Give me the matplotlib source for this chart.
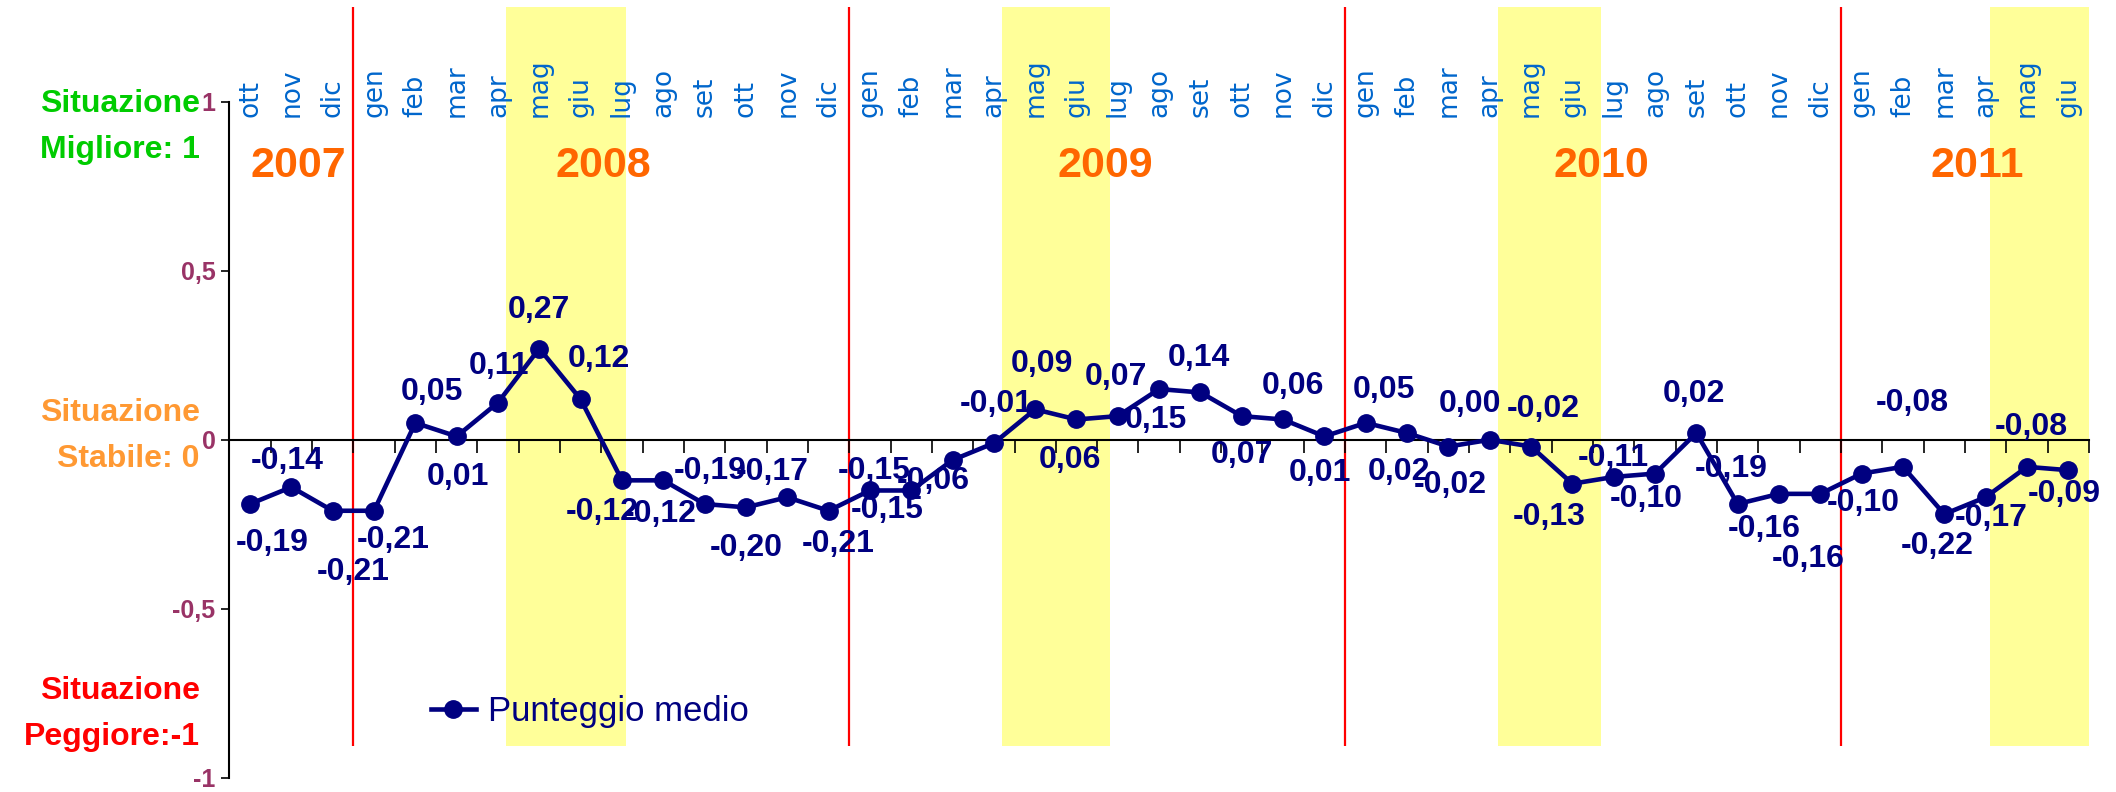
import matplotlib
matplotlib.use("Agg")
import matplotlib.pyplot as plt
import numpy as np

# mesi da ott 2007 a giu 2011
mesi = ["ott", "nov", "dic",
        "gen", "feb", "mar", "apr", "mag", "giu", "lug", "ago", "set", "ott", "nov", "dic",
        "gen", "feb", "mar", "apr", "mag", "giu", "lug", "ago", "set", "ott", "nov", "dic",
        "gen", "feb", "mar", "apr", "mag", "giu", "lug", "ago", "set", "ott", "nov", "dic",
        "gen", "feb", "mar", "apr", "mag", "giu"]

punteggio = [-0.19, -0.14, -0.21,
             -0.21, 0.05, 0.01, 0.11, 0.27, 0.12, -0.12, -0.12, -0.19, -0.20, -0.17, -0.21,
             -0.15, -0.15, -0.06, -0.01, 0.09, 0.06, 0.07, 0.15, 0.14, 0.07, 0.06, 0.01,
             0.05, 0.02, -0.02, 0.00, -0.02, -0.13, -0.11, -0.10, 0.02, -0.19, -0.16, -0.16,
             -0.10, -0.08, -0.22, -0.17, -0.08, -0.09]

anni = ["2007", "2008", "2009", "2010", "2011"]
y_ticks = [-1, -0.5, 0, 0.5, 1]
y_tick_labels = ["-1", "-0,5", "0", "0,5", "1"]

# label offsets (points, dx, dy) - hand placed like the original
label_offsets = [(16, -28), (-3, 19), (15, -44),
                 (14, -21), (12, 22), (1, -29), (1, 26), (0, 28), (13, 29), (-14, -23),
                 (-2, -24), (4, 24), (0, -29), (-11, 18), (7, -24),
                 (3, 14), (-17, -14), (-14, -15), (2, 28), (5, 33), (-5, -29), (-1, 28),
                 (-2, -22), (-1, 25), (0, -28), (7, 24), (-3, -26),
                 (13, 24), (-6, -28), (1, -28), (-14, 26), (9, 27), (-17, -24), (0, 14),
                 (-6, -18), (-2, 28), (-5, 25), (-11, -25), (-9, -47),
                 (1, -21), (7, 46), (-5, -23), (4, -15), (3, 29), (-3, -17)]

x = np.arange(len(punteggio))
confini = [2.5, 14.5, 26.5, 38.5]
bande = [(6.2, 9.1), (18.2, 20.8), (30.2, 32.7), (42.1, 44.5)]
pos_anni = [1.17, 8.55, 20.7, 32.7, 41.8]

narrow = ["Liberation Sans Narrow", "Liberation Sans", "DejaVu Sans"]
navy = "#000080"

fig = plt.figure(figsize=(21.16, 7.92), dpi=100)
ax = fig.add_axes([0.1084, 0.0, 0.8788, 1.0])
ax.set_xlim(-0.5, 44.5)
ax.set_ylim(-1.042, 1.301)

for a, b in bande:
    ax.fill_between([a, b], -0.906, 1.28, color="#FFFF99", lw=0, zorder=0)
ax.vlines(confini, -0.906, 1.28, color="#FF0000", lw=1.6, zorder=1)

ax.plot(x, punteggio, color=navy, lw=3.3, marker="o", ms=12.5,
        label="Punteggio medio", zorder=4)

for xi, v, (dx, dy) in zip(x, punteggio, label_offsets):
    ax.annotate(f"{v:.2f}".replace(".", ","), (xi, v), xytext=(dx, dy),
                textcoords="offset points", ha="center", va="center",
                color=navy, fontsize=23, fontweight="bold", family=narrow, zorder=5)

for xi, m in zip(x, mesi):
    ax.text(xi, 0.955, m, rotation=90, ha="center", va="bottom",
            color="#0066CC", fontsize=19, family="DejaVu Sans")

for xp, anno in zip(pos_anni, anni):
    ax.text(xp, 0.81, anno, ha="center", va="center", color="#FF6600",
            fontsize=31, fontweight="bold", family=narrow)

for s in ["top", "right"]:
    ax.spines[s].set_visible(False)
ax.spines["left"].set_bounds(-1, 1)
ax.spines["left"].set_linewidth(1.5)
ax.spines["bottom"].set_position(("data", 0))
ax.spines["bottom"].set_bounds(-0.5, 44.5)
ax.spines["bottom"].set_linewidth(1.5)
ax.set_xticks(np.arange(-0.5, 45, 1))
ax.set_xticklabels([])
ax.tick_params(axis="x", direction="out", length=9, width=1.2)
ax.set_yticks(y_ticks)
ax.set_yticklabels(y_tick_labels, color="#993366", fontsize=18,
                   fontweight="bold", family=narrow)
ax.tick_params(axis="y", direction="out", length=6, width=1.2, pad=4)

for txt, col, yy in [("Situazione\nMigliore: 1", "#00CC00", 0.840),
                     ("Situazione\nStabile: 0", "#FF9933", 0.4497),
                     ("Situazione\nPeggiore:-1", "#FF0000", 0.099)]:
    fig.text(0.0944, yy, txt, ha="right", va="center", color=col, fontsize=23,
             fontweight="bold", family=narrow, linespacing=1.7)

leg = ax.legend(loc="center left", bbox_to_anchor=(0.099, 0.102), frameon=False,
                handlelength=1.3, handletextpad=0.35, borderpad=0,
                prop={"family": narrow, "size": 25})
for t in leg.get_texts():
    t.set_color(navy)

fig.savefig("out.png", dpi=100)
